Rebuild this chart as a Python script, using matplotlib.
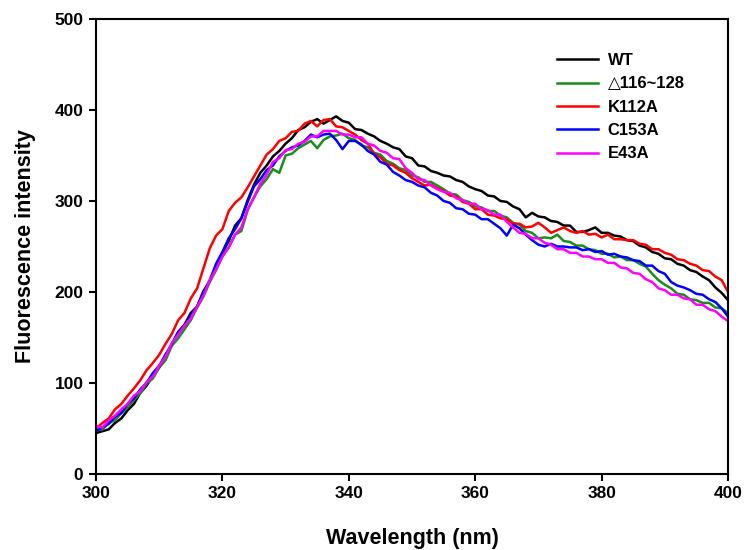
import numpy as np
import matplotlib
matplotlib.use('Agg')
import matplotlib.pyplot as plt

plt.rcParams['font.family'] = ['Liberation Sans', 'DejaVu Sans']
plt.rcParams['font.weight'] = 'bold'

wavelength = np.arange(300, 401, 1)

wt = [45, 47, 49, 56, 61, 70, 77, 89, 97, 108,
      117, 131, 142, 156, 164, 177, 184, 201, 212, 229,
      243, 256, 273, 281, 301, 318, 331, 339, 349, 355,
      363, 369, 378, 381, 387, 390, 385, 389, 393, 388,
      386, 379, 378, 374, 371, 366, 363, 359, 357, 349,
      347, 339, 338, 333, 331, 328, 327, 323, 321, 316,
      313, 311, 306, 305, 300, 299, 294, 291, 282, 287,
      283, 282, 278, 277, 273, 273, 266, 266, 268, 271,
      265, 265, 262, 261, 257, 256, 251, 249, 244, 242,
      237, 236, 231, 229, 224, 222, 217, 213, 205, 199,
      191]

d116 = [48, 49, 56, 59, 67, 73, 81, 89, 99, 105,
        117, 125, 141, 149, 159, 169, 183, 195, 211, 224,
        239, 249, 263, 267, 290, 304, 316, 324, 335, 331,
        350, 352, 358, 362, 366, 358, 367, 371, 372, 374,
        369, 367, 361, 359, 353, 351, 344, 341, 336, 334,
        328, 326, 321, 321, 317, 313, 308, 307, 301, 299,
        294, 293, 289, 289, 284, 282, 276, 274, 267, 265,
        259, 260, 259, 263, 256, 255, 251, 251, 247, 246,
        242, 242, 238, 239, 235, 235, 231, 228, 220, 213,
        208, 204, 198, 197, 192, 191, 188, 188, 183, 182,
        177]

k112a = [50, 56, 61, 71, 77, 86, 94, 103, 114, 122,
         131, 143, 154, 169, 177, 193, 204, 226, 248, 262,
         269, 289, 298, 304, 315, 327, 339, 351, 357, 366,
         369, 376, 377, 385, 388, 382, 389, 390, 382, 381,
         377, 373, 367, 363, 352, 348, 341, 339, 334, 331,
         325, 321, 317, 318, 314, 311, 306, 305, 299, 297,
         291, 291, 285, 284, 281, 280, 275, 275, 271, 272,
         276, 271, 265, 268, 271, 267, 265, 267, 263, 264,
         260, 263, 258, 258, 257, 257, 253, 252, 247, 247,
         243, 241, 236, 235, 231, 229, 224, 223, 217, 213,
         200]

c153a = [47, 51, 55, 63, 67, 77, 83, 93, 100, 111,
         119, 131, 143, 156, 163, 174, 184, 199, 213, 231,
         244, 259, 269, 281, 299, 316, 324, 334, 339, 349,
         355, 359, 361, 366, 373, 370, 373, 374, 367, 357,
         366, 366, 362, 355, 351, 343, 340, 332, 328, 323,
         321, 317, 315, 309, 306, 300, 298, 292, 291, 286,
         285, 280, 280, 275, 270, 262, 274, 270, 263, 257,
         252, 250, 253, 250, 250, 249, 249, 246, 247, 244,
         245, 241, 242, 239, 238, 235, 234, 229, 229, 223,
         220, 211, 207, 205, 202, 198, 197, 192, 189, 182,
         173]

e43a = [53, 51, 59, 64, 71, 77, 86, 91, 101, 107,
        119, 129, 144, 153, 163, 171, 184, 196, 213, 225,
        239, 249, 263, 271, 291, 304, 319, 329, 343, 347,
        356, 357, 363, 365, 371, 371, 377, 377, 377, 373,
        373, 370, 370, 363, 361, 355, 353, 347, 346, 336,
        331, 324, 323, 317, 313, 310, 309, 303, 301, 297,
        297, 291, 290, 285, 285, 277, 271, 265, 264, 259,
        259, 254, 252, 247, 247, 243, 243, 239, 239, 236,
        236, 232, 232, 227, 226, 221, 220, 214, 211, 204,
        202, 197, 197, 193, 192, 186, 186, 181, 179, 173,
        168]

series = [wt, d116, k112a, c153a, e43a]
labels = ['WT', '\u25b3116~128', 'K112A', 'C153A', 'E43A']
colors = ['#000000', '#1a8c1a', '#ff0000', '#0000ff', '#ff00ff']

fig = plt.figure(figsize=(7.44, 5.5), dpi=100)
ax = fig.add_axes([96/744, 76/550, 632/744, 455/550])

for vals, lab, col in zip(series, labels, colors):
    ax.plot(wavelength, vals, color=col, lw=1.8, label=lab)

ax.set_xlim(300, 400)
ax.set_ylim(0, 500)
ax.set_xticks(np.arange(300, 401, 20))
ax.set_yticks(np.arange(0, 501, 100))
for s in ax.spines.values():
    s.set_linewidth(1.5)
ax.tick_params(direction='out', length=5, width=1.5, labelsize=12.5, pad=4)
for t in ax.get_xticklabels() + ax.get_yticklabels():
    t.set_fontweight('bold')

ax.set_xlabel('Wavelength (nm)', fontsize=15.5, fontweight='bold', labelpad=19)
ax.set_ylabel('Fluorescence intensity', fontsize=15.5, fontweight='bold', labelpad=13)

leg = ax.legend(loc='upper left', bbox_to_anchor=(0.729, 0.925), frameon=False,
                fontsize=12, handlelength=2.46, handletextpad=0.6,
                labelspacing=0.5, borderpad=0, borderaxespad=0)
for t in leg.get_texts():
    t.set_fontweight('bold')

fig.savefig('out.png', dpi=100)
